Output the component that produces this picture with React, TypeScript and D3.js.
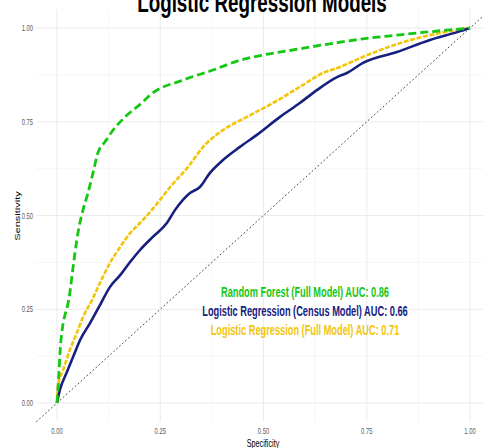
import React from "react";
import { scaleLinear, line, range, curveMonotoneX } from "d3";

// ROC curves (x = specificity axis, y = sensitivity)
const rfX = [0, 0.002, 0.009, 0.031, 0.039, 0.048, 0.053, 0.063, 0.075, 0.087, 0.099, 0.116, 0.136, 0.165, 0.208, 0.225, 0.305, 0.378, 0.443, 0.499, 0.564, 0.644, 0.685, 0.741, 0.823, 0.903, 1];
const rfY = [0, 0.03, 0.16, 0.293, 0.363, 0.435, 0.467, 0.515, 0.56, 0.613, 0.667, 0.696, 0.728, 0.763, 0.803, 0.821, 0.861, 0.888, 0.914, 0.928, 0.94, 0.955, 0.962, 0.971, 0.981, 0.99, 1];

const censusX = [0, 0.007, 0.023, 0.039, 0.056, 0.08, 0.104, 0.128, 0.153, 0.177, 0.201, 0.232, 0.266, 0.286, 0.322, 0.346, 0.37, 0.402, 0.443, 0.484, 0.54, 0.588, 0.63, 0.678, 0.702, 0.741, 0.823, 0.903, 0.969, 1];
const censusY = [0, 0.035, 0.08, 0.123, 0.168, 0.213, 0.261, 0.309, 0.341, 0.376, 0.408, 0.443, 0.48, 0.515, 0.56, 0.576, 0.613, 0.648, 0.683, 0.715, 0.763, 0.8, 0.835, 0.869, 0.88, 0.907, 0.936, 0.968, 0.989, 1];

const fullX = [0, 0.002, 0.015, 0.031, 0.048, 0.063, 0.085, 0.104, 0.128, 0.153, 0.177, 0.201, 0.23, 0.249, 0.274, 0.317, 0.354, 0.402, 0.46, 0.523, 0.588, 0.644, 0.685, 0.741, 0.823, 0.903, 1];
const fullY = [0, 0.043, 0.088, 0.141, 0.187, 0.229, 0.275, 0.32, 0.373, 0.416, 0.453, 0.48, 0.515, 0.541, 0.576, 0.629, 0.683, 0.728, 0.763, 0.8, 0.843, 0.88, 0.896, 0.923, 0.957, 0.981, 1];

const ticks = [0, 0.25, 0.5, 0.75, 1];
const tickLabels = ["0.00", "0.25", "0.50", "0.75", "1.00"];
const minorTicks = [0.125, 0.375, 0.625, 0.875];

const labels = [
  { text: "Random Forest (Full Model) AUC: 0.86", color: "#13C713" },
  { text: "Logistic Regression (Census Model) AUC: 0.66", color: "#16207F" },
  { text: "Logistic Regression (Full Model) AUC: 0.71", color: "#F2C40A" },
];

const SQ = 0.66; // horizontal squish of the original picture
const FONT = "'Liberation Sans', Arial, Helvetica, sans-serif";

export default function App() {
  const width = 483;
  const height = 448;
  const x = scaleLinear().domain([0, 1]).range([57, 470]);
  const y = scaleLinear().domain([0, 1]).range([403, 28]);
  const x0 = x(-0.05), x1 = x(1.05);
  const y0 = y(-0.05), y1 = y(1.05);

  const mk = (xs: number[], ys: number[]) =>
    line<number>()
      .x((i) => x(xs[i]))
      .y((i) => y(ys[i]))
      .curve(curveMonotoneX)(range(xs.length)) || "";

  const sqText = (tx: number, ty: number, extra = "") =>
    `translate(${tx},${ty}) scale(${SQ},1)${extra}`;

  return (
    <svg
      width={width}
      height={height}
      style={{ position: "absolute", left: 0, top: 0, background: "#fff" }}
      fontFamily={FONT}
    >
      {/* grid */}
      {minorTicks.map((t) => (
        <g key={"m" + t}>
          <line x1={x(t)} x2={x(t)} y1={y1} y2={y0} stroke="#f0f0f0" strokeWidth={0.6} />
          <line x1={x0} x2={x1} y1={y(t)} y2={y(t)} stroke="#f0f0f0" strokeWidth={0.6} />
        </g>
      ))}
      {ticks.map((t) => (
        <g key={"M" + t}>
          <line x1={x(t)} x2={x(t)} y1={y1} y2={y0} stroke="#ebebeb" strokeWidth={1} />
          <line x1={x0} x2={x1} y1={y(t)} y2={y(t)} stroke="#ebebeb" strokeWidth={1} />
        </g>
      ))}

      {/* reference diagonal */}
      <line
        x1={x(-0.05)} y1={y(-0.05)} x2={x(1.05)} y2={y(1.05)}
        stroke="#333" strokeWidth={0.9} strokeDasharray="1.8,2.2"
      />

      {/* curves */}
      <path d={mk(fullX, fullY)} fill="none" stroke={labels[2].color} strokeWidth={2.6} strokeDasharray="5,1.6" strokeLinejoin="round" />
      <path d={mk(censusX, censusY)} fill="none" stroke={labels[1].color} strokeWidth={2.6} strokeLinejoin="round" />
      <path d={mk(rfX, rfY)} fill="none" stroke={labels[0].color} strokeWidth={2.8} strokeDasharray="8,4" />

      {/* axis tick labels */}
      {ticks.map((t, i) => (
        <text key={"x" + t} transform={sqText(x(t), 434)} textAnchor="middle" fontSize={8.8} fill="#5a5a5a">
          {tickLabels[i]}
        </text>
      ))}
      {ticks.map((t, i) => (
        <text key={"y" + t} transform={sqText(33, y(t) + 3)} textAnchor="end" fontSize={8.8} fill="#5a5a5a">
          {tickLabels[i]}
        </text>
      ))}

      {/* axis titles */}
      <text transform={sqText(263, 447)} textAnchor="middle" fontSize={11} fill="#000">
        Specificity
      </text>
      <text transform={sqText(19.5, 216, " rotate(-90)")} textAnchor="middle" fontSize={11} fill="#000">
        Sensitivity
      </text>

      {/* title */}
      <text transform={sqText(262, 12)} textAnchor="middle" fontSize={28.5} fontWeight="bold" fill="#000">
        Logistic Regression Models
      </text>

      {/* AUC annotations */}
      {labels.map((l, i) => (
        <text
          key={l.text}
          transform={sqText(305, 297 + i * 19)}
          textAnchor="middle"
          fontSize={14}
          fontWeight="bold"
          fill={l.color}
        >
          {l.text}
        </text>
      ))}
    </svg>
  );
}
